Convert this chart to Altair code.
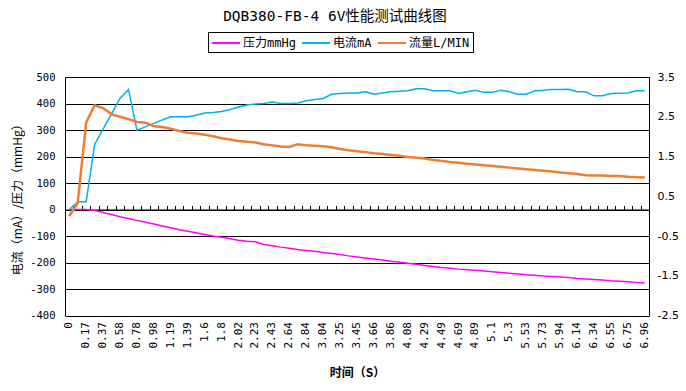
import altair as alt
import pandas as pd

# time categories (s); every second one is labelled on the axis
times = ["0", "0.07", "0.17", "0.27", "0.37", "0.47", "0.58", "0.68", "0.78", "0.88",
         "0.98", "1.08", "1.19", "1.29", "1.39", "1.49", "1.6", "1.7", "1.8", "1.91",
         "2.02", "2.12", "2.23", "2.33", "2.43", "2.53", "2.64", "2.74", "2.84", "2.94",
         "3.04", "3.14", "3.25", "3.35", "3.45", "3.55", "3.66", "3.76", "3.86", "3.97",
         "4.08", "4.18", "4.29", "4.39", "4.49", "4.59", "4.69", "4.79", "4.89", "4.99",
         "5.1", "5.2", "5.3", "5.42", "5.53", "5.63", "5.73", "5.83", "5.94", "6.04",
         "6.14", "6.24", "6.34", "6.45", "6.55", "6.65", "6.75", "6.86", "6.96"]

shown_labels = ["0", "0.17", "0.37", "0.58", "0.78", "0.98", "1.19", "1.39", "1.6", "1.8",
                "2.02", "2.23", "2.43", "2.64", "2.84", "3.04", "3.25", "3.45", "3.66", "3.86",
                "4.08", "4.29", "4.49", "4.69", "4.89", "5.1", "5.3", "5.53", "5.73", "5.94",
                "6.14", "6.34", "6.55", "6.75", "6.96"]

# 压力 mmHg (left axis)
pressure = [0, 0, 0, -4, -11, -19, -27, -34, -41, -48,
            -55, -62, -69, -76, -82, -88, -94, -100, -105, -110,
            -116, -120, -122, -132, -137, -142, -146, -151, -155, -158,
            -162, -166, -170, -175, -179, -183, -187, -191, -195, -199,
            -203, -207, -211, -215, -219, -222, -225, -227, -229, -232,
            -235, -238, -241, -243, -246, -248, -251, -253, -255, -257,
            -260, -262, -264, -266, -269, -271, -273, -275, -277]

# 电流 mA (left axis)
current = [0, 29, 29, 245, 303, 361, 419, 453, 299, 312,
           325, 338, 350, 350, 350, 356, 364, 366, 370, 377,
           387, 394, 398, 400, 406, 400, 400, 402, 410, 415,
           419, 435, 438, 440, 440, 444, 435, 440, 444, 446,
           448, 456, 456, 448, 448, 448, 438, 444, 450, 442,
           442, 450, 444, 435, 435, 448, 450, 453, 453, 454,
           444, 444, 429, 429, 438, 439, 440, 448, 448]

# 流量 L/MIN (right axis)
flow = [0.0, 0.33, 2.35, 2.79, 2.72, 2.56, 2.50, 2.44, 2.37, 2.35,
        2.26, 2.24, 2.20, 2.14, 2.10, 2.08, 2.05, 2.01, 1.96, 1.93,
        1.89, 1.87, 1.85, 1.81, 1.78, 1.75, 1.74, 1.81, 1.78, 1.77,
        1.76, 1.73, 1.69, 1.66, 1.63, 1.61, 1.58, 1.56, 1.54, 1.52,
        1.49, 1.47, 1.45, 1.41, 1.39, 1.36, 1.34, 1.32, 1.30, 1.28,
        1.26, 1.24, 1.22, 1.20, 1.18, 1.16, 1.14, 1.12, 1.10, 1.08,
        1.06, 1.03, 1.02, 1.02, 1.01, 1.01, 0.99, 0.98, 0.97]

series_names = ["压力mmHg", "电流mA", "流量L/MIN"]
series_colors = ["#FF00FF", "#00B0F0", "#ED7D31"]

left_ticks = [-400, -300, -200, -100, 0, 100, 200, 300, 400, 500]
right_ticks = [-2.5, -1.5, -0.5, 0.5, 1.5, 2.5, 3.5]

frames = []
for name, vals in zip(series_names, [pressure, current, flow]):
    frames.append(pd.DataFrame({"time": times, "value": vals, "series": name}))
df = pd.concat(frames, ignore_index=True)

W, H = 584, 238.5
zero_offset = -H * 500 / 900

x_scale = alt.Scale(type="band", paddingInner=0, paddingOuter=0)
label_js = "[" + ",".join("'" + s + "'" for s in shown_labels) + "]"

color = alt.Color("series:N", scale=alt.Scale(domain=series_names, range=series_colors),
                  legend=alt.Legend(title=None, symbolType="M-2,0H2", symbolSize=196,
                                    symbolOffset=7, labelOffset=9))

mono = "DejaVu Sans Mono"
cjk = "Noto Sans CJK SC"
mixed = "DejaVu Sans Mono, Noto Sans CJK SC"

base = alt.Chart(df)

pink = base.transform_filter(alt.datum.series == series_names[0]).mark_line(strokeWidth=1.5).encode(
    x=alt.X("time:N", sort=times, scale=x_scale, bandPosition=0.5,
            axis=alt.Axis(orient="top", offset=zero_offset, labels=False, ticks=True,
                          tickBand="extent", tickSize=4, tickColor="black", domainColor="black",
                          grid=False, title=None)),
    y=alt.Y("value:Q", scale=alt.Scale(domain=[-400, 500], nice=False, zero=False), axis=None),
    color=color,
)

blue = base.transform_filter(alt.datum.series == series_names[1]).mark_line(strokeWidth=1.5).encode(
    x=alt.X("time:N", sort=times, scale=x_scale, bandPosition=0.5,
            axis=alt.Axis(orient="bottom", labelAngle=270, ticks=False, domain=False, grid=False,
                          labelExpr="indexof(" + label_js + ", datum.value) >= 0 ? datum.label : ''",
                          labelFont=mono, labelFontSize=11, labelColor="black", labelPadding=6,
                          title="时间（S）", titleFont=cjk, titleFontSize=12, titleFontWeight="bold",
                          titleColor="black", titlePadding=20)),
    y=alt.Y("value:Q", scale=alt.Scale(domain=[-400, 500], nice=False, zero=False),
            axis=alt.Axis(orient="left", values=left_ticks, grid=True, gridColor="black",
                          gridOpacity=1, gridWidth=1, ticks=False, domainColor="black",
                          labelExpr="'' + datum.value", labelFont=mono, labelFontSize=10.5,
                          labelColor="black", labelPadding=10,
                          title="电流（mA）/压力（mmHg）", titleFont=cjk, titleFontSize=12,
                          titleFontWeight="normal", titleColor="black", titlePadding=5.5)),
    color=color,
)

orange = base.transform_filter(alt.datum.series == series_names[2]).mark_line(strokeWidth=2.5).encode(
    x=alt.X("time:N", sort=times, scale=x_scale, bandPosition=0.5, axis=None),
    y=alt.Y("value:Q", scale=alt.Scale(domain=[-2.5, 3.5], nice=False, zero=False),
            axis=alt.Axis(orient="right", values=right_ticks, grid=False, ticks=False,
                          domainColor="black", labelExpr="'' + datum.value",
                          labelFont="DejaVu Sans", labelFontSize=11, labelColor="black",
                          labelPadding=8, title=None)),
    color=color,
)

chart = alt.layer(pink, blue, orange).resolve_scale(y="independent").resolve_axis(
    x="independent", y="independent"
).properties(
    width=W, height=H,
    title=alt.TitleParams("DQB380-FB-4 6V性能测试曲线图", font=mixed, fontSize=14.5,
                          fontWeight="normal", color="black", anchor="middle", offset=7, dx=-22),
    padding={"left": 57, "top": 69, "right": 29, "bottom": 68},
    autosize=alt.AutoSizeParams(type="none"),
).configure_view(stroke=None).configure_legend(
    orient="none", legendX=143, legendY=-45, direction="horizontal",
    strokeColor="black", padding=3, labelFont=mixed, labelFontSize=12, labelColor="black",
    symbolStrokeWidth=2, columnPadding=2,
)

chart.save("out.html", embed_options={"renderer": "svg", "actions": False})
